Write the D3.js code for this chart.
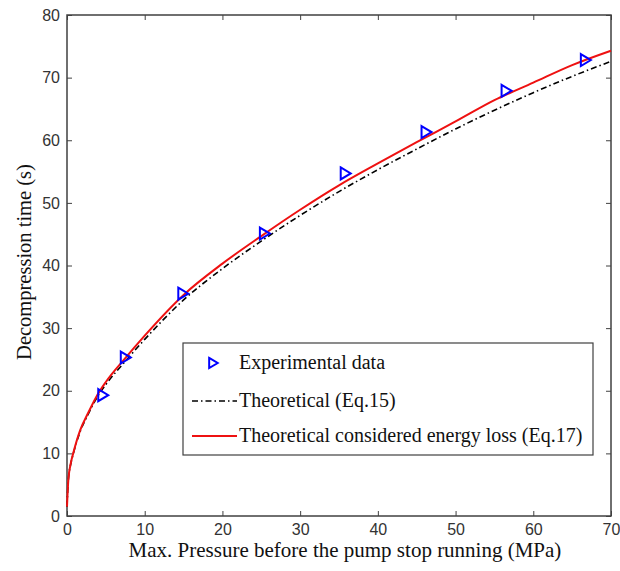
<!DOCTYPE html>
<html>
<head>
<meta charset="utf-8">
<script src="https://cdn.jsdelivr.net/npm/d3@7"></script>
<style>
  body { margin: 0; background: #fff; }
  .tick text { font-family: "Liberation Sans", Arial, sans-serif; font-size: 16px; fill: #333; }
</style>
</head>
<body>
<div id="chart"></div>
<script>
// measured points
var expPressure = [4.6, 7.5, 14.9, 25.4, 35.8, 46.2, 56.5, 66.7];
var expTime     = [19.3, 25.3, 35.5, 45.1, 54.7, 61.3, 67.9, 72.8];

// curves
var curvePressure = [0, 0.17, 0.5, 0.8, 1.7, 2.7, 3.8, 5, 7.5, 10, 15, 20, 25, 30, 35, 40, 45, 50, 55, 60, 65, 70];
var eq15Time = [1.5, 5.7, 8.4, 9.9, 13.5, 16.2, 18.8, 21.0, 24.7, 28.2, 34.5, 39.5, 43.9, 48, 51.8, 55.3, 58.6, 61.8, 64.8, 67.6, 70.2, 72.6];
var eq17Time = [1.5, 5.75, 8.5, 10, 13.7, 16.4, 19.1, 21.4, 25.2, 28.8, 35.3, 40.3, 44.7, 48.9, 52.8, 56.3, 59.7, 63, 66.4, 69.2, 72, 74.3];

var xTicks = [0, 10, 20, 30, 40, 50, 60, 70];
var yTicks = [0, 10, 20, 30, 40, 50, 60, 70, 80];

var legendLabels = ["Experimental data", "Theoretical (Eq.15)", "Theoretical considered energy loss (Eq.17)"];

var margin = { top: 15, right: 9, bottom: 55, left: 67 };
var width = 620, height = 571;
var w = width - margin.left - margin.right;
var h = height - margin.top - margin.bottom;

var svg = d3.select("#chart").append("svg")
    .attr("width", width)
    .attr("height", height);

var g = svg.append("g")
    .attr("transform", "translate(" + margin.left + "," + margin.top + ")");

var x = d3.scaleLinear().domain([0, 70]).range([0, w]);
var y = d3.scaleLinear().domain([0, 80]).range([h, 0]);

// axes, ticks pointing inward like matlab
var axisColor = "#404040";
function styleAxis(sel) {
    sel.select(".domain").remove();
    sel.selectAll(".tick line").attr("stroke", axisColor).attr("stroke-width", 1);
}

g.append("g")
    .attr("transform", "translate(0," + h + ")")
    .call(d3.axisBottom(x).tickValues(xTicks).tickSizeInner(-5).tickSizeOuter(0).tickPadding(8))
    .call(styleAxis);
g.append("g")
    .call(d3.axisLeft(y).tickValues(yTicks).tickSizeInner(-5).tickSizeOuter(0).tickPadding(7))
    .call(styleAxis);
g.append("g")
    .call(d3.axisTop(x).tickValues(xTicks).tickSizeInner(-5).tickSizeOuter(0).tickFormat(""))
    .call(styleAxis);
g.append("g")
    .attr("transform", "translate(" + w + ",0)")
    .call(d3.axisRight(y).tickValues(yTicks).tickSizeInner(-5).tickSizeOuter(0).tickFormat(""))
    .call(styleAxis);

g.append("rect")
    .attr("width", w).attr("height", h)
    .attr("fill", "none")
    .attr("stroke", axisColor)
    .attr("stroke-width", 1.5);

// curves
var line = d3.line()
    .x(function(d) { return x(d[0]); })
    .y(function(d) { return y(d[1]); })
    .curve(d3.curveMonotoneX);

g.append("path")
    .datum(d3.zip(curvePressure, eq15Time))
    .attr("d", line)
    .attr("fill", "none")
    .attr("stroke", "#000")
    .attr("stroke-width", 1.6)
    .attr("stroke-dasharray", "6,3,1.5,3");

g.append("path")
    .datum(d3.zip(curvePressure, eq17Time))
    .attr("d", line)
    .attr("fill", "none")
    .attr("stroke", "#ee1111")
    .attr("stroke-width", 2);

// triangle marker pointing right
function tri(cx, cy, s) {
    return "M" + (cx - 4.5 * s) + "," + (cy - 6 * s) + "L" + (cx + 5.5 * s) + "," + cy +
        "L" + (cx - 4.5 * s) + "," + (cy + 6 * s) + "Z";
}

g.selectAll(".pt")
    .data(d3.zip(expPressure, expTime))
    .enter().append("path")
    .attr("class", "pt")
    .attr("d", function(d) { return tri(x(d[0]), y(d[1]), 1); })
    .attr("fill", "none")
    .attr("stroke", "#0000ff")
    .attr("stroke-width", 2);

// axis labels
var serif = "'Liberation Serif', 'Times New Roman', serif";
svg.append("text")
    .attr("x", 345)
    .attr("y", 557)
    .attr("text-anchor", "middle")
    .style("font-family", serif)
    .style("font-size", "21px")
    .style("fill", "#111")
    .text("Max. Pressure before the pump stop running (MPa)");

svg.append("text")
    .attr("transform", "translate(31,262) rotate(-90)")
    .attr("text-anchor", "middle")
    .style("font-family", serif)
    .style("font-size", "20.5px")
    .style("fill", "#111")
    .text("Decompression time (s)");

// legend
var legend = svg.append("g").attr("transform", "translate(183,343)");
legend.append("rect")
    .attr("width", 410).attr("height", 112)
    .attr("fill", "#fff")
    .attr("stroke", axisColor)
    .attr("stroke-width", 1.2);

var rowY = [20, 58, 93];
legend.append("path")
    .attr("d", tri(30, rowY[0], 0.85))
    .attr("fill", "none")
    .attr("stroke", "#0000ff")
    .attr("stroke-width", 2);
legend.append("line")
    .attr("x1", 9).attr("x2", 54).attr("y1", rowY[1]).attr("y2", rowY[1])
    .attr("stroke", "#000").attr("stroke-width", 1.6)
    .attr("stroke-dasharray", "6,3,1.5,3");
legend.append("line")
    .attr("x1", 9).attr("x2", 54).attr("y1", rowY[2]).attr("y2", rowY[2])
    .attr("stroke", "#ee1111").attr("stroke-width", 2);

legend.selectAll(".lt")
    .data(legendLabels)
    .enter().append("text")
    .attr("class", "lt")
    .attr("x", 56)
    .attr("y", function(d, i) { return rowY[i] + 6; })
    .style("font-family", serif)
    .style("font-size", "20px")
    .style("fill", "#111")
    .text(function(d) { return d; });
</script>
</body>
</html>
